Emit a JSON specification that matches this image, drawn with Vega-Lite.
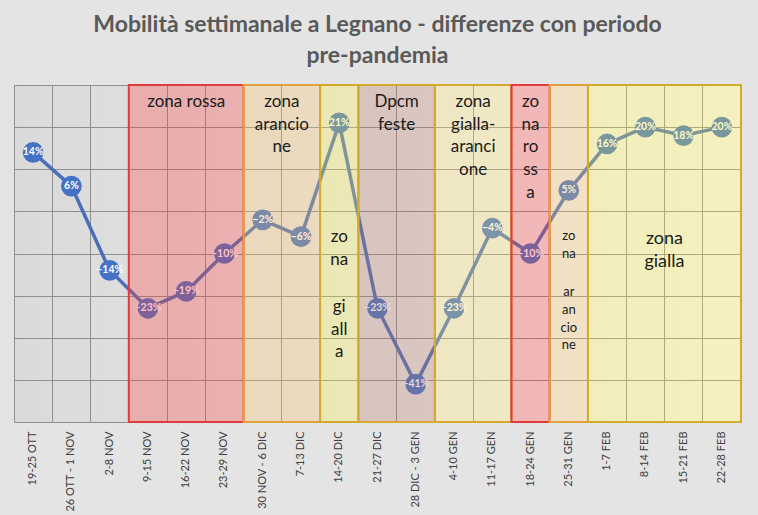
{
  "$schema": "https://vega.github.io/schema/vega-lite/v6.json",
  "width": 727,
  "height": 337,
  "autosize": {"type": "none"},
  "padding": {"left": 14, "top": 85, "right": 17, "bottom": 93},
  "background": "#e4e4e4",
  "title": {
    "text": ["Mobilità settimanale a Legnano - differenze con periodo", "pre-pandemia"],
    "font": "Lato",
    "fontSize": 23,
    "fontWeight": "bold",
    "color": "#595959",
    "anchor": "middle",
    "offset": 16,
    "lineHeight": 31
  },
  "config": {
    "view": {
      "stroke": null,
      "fill": {"gradient": "linear", "x1": 0, "y1": 0, "x2": 1, "y2": 0, "stops": [{"offset": 0, "color": "#dadada"}, {"offset": 1, "color": "#f3f3f3"}]}
    },
    "text": {"font": "Lato"}
  },
  "datasets": {
    "weeks": [
      {"settimana": "19-25 OTT", "valore": 0.14},
      {"settimana": "26 OTT - 1 NOV", "valore": 0.06},
      {"settimana": "2-8 NOV", "valore": -0.14},
      {"settimana": "9-15 NOV", "valore": -0.23},
      {"settimana": "16-22 NOV", "valore": -0.19},
      {"settimana": "23-29 NOV", "valore": -0.10},
      {"settimana": "30 NOV - 6 DIC", "valore": -0.02},
      {"settimana": "7-13 DIC", "valore": -0.06},
      {"settimana": "14-20 DIC", "valore": 0.21},
      {"settimana": "21-27 DIC", "valore": -0.23},
      {"settimana": "28 DIC - 3 GEN", "valore": -0.41},
      {"settimana": "4-10 GEN", "valore": -0.23},
      {"settimana": "11-17 GEN", "valore": -0.04},
      {"settimana": "18-24 GEN", "valore": -0.10},
      {"settimana": "25-31 GEN", "valore": 0.05},
      {"settimana": "1-7 FEB", "valore": 0.16},
      {"settimana": "8-14 FEB", "valore": 0.20},
      {"settimana": "15-21 FEB", "valore": 0.18},
      {"settimana": "22-28 FEB", "valore": 0.20}
    ],
    "zones": [
      {"tipo": "rossa", "inizio": "9-15 NOV", "fine": "23-29 NOV"},
      {"tipo": "arancione", "inizio": "30 NOV - 6 DIC", "fine": "7-13 DIC"},
      {"tipo": "gialla", "inizio": "14-20 DIC", "fine": "14-20 DIC"},
      {"tipo": "dpcm", "inizio": "21-27 DIC", "fine": "28 DIC - 3 GEN"},
      {"tipo": "gialla-arancione", "inizio": "4-10 GEN", "fine": "11-17 GEN"},
      {"tipo": "rossa", "inizio": "18-24 GEN", "fine": "18-24 GEN"},
      {"tipo": "arancione", "inizio": "25-31 GEN", "fine": "25-31 GEN"},
      {"tipo": "gialla", "inizio": "1-7 FEB", "fine": "22-28 FEB"}
    ]
  },
  "layer": [
    {
      "data": {"name": "weeks"},
      "mark": {"type": "line", "color": "#4a6fb8", "strokeWidth": 3.5},
      "encoding": {
        "x": {
          "field": "settimana",
          "type": "ordinal",
          "scale": {
            "type": "band",
            "paddingInner": 0,
            "paddingOuter": 0,
            "domain": ["19-25 OTT", "26 OTT - 1 NOV", "2-8 NOV", "9-15 NOV", "16-22 NOV", "23-29 NOV", "30 NOV - 6 DIC", "7-13 DIC", "14-20 DIC", "21-27 DIC", "28 DIC - 3 GEN", "4-10 GEN", "11-17 GEN", "18-24 GEN", "25-31 GEN", "1-7 FEB", "8-14 FEB", "15-21 FEB", "22-28 FEB"]
          },
          "axis": {
            "title": null,
            "bandPosition": 0,
            "grid": true,
            "gridColor": "#8f8f8f",
            "gridWidth": 1,
            "ticks": false,
            "domain": false,
            "labelAngle": -90,
            "labelFont": "Lato",
            "labelFontSize": 11,
            "labelColor": "#404040",
            "labelPadding": 9
          }
        },
        "y": {
          "field": "valore",
          "type": "quantitative",
          "scale": {"domain": [-0.5, 0.3], "nice": false, "zero": false},
          "axis": {
            "title": null,
            "values": [-0.5, -0.4, -0.3, -0.2, -0.1, 0, 0.1, 0.2, 0.3],
            "labels": false,
            "ticks": false,
            "domain": false,
            "grid": true,
            "gridColor": "#8f8f8f",
            "gridWidth": 1
          }
        }
      }
    },
    {
      "data": {"name": "weeks"},
      "mark": {"type": "point", "filled": true, "opacity": 1, "size": 430, "color": "#4472c4", "shape": "circle"},
      "encoding": {
        "x": {"field": "settimana", "type": "ordinal"},
        "y": {"field": "valore", "type": "quantitative"}
      }
    },
    {
      "data": {"name": "weeks"},
      "mark": {"type": "text", "color": "#ffffff", "fontWeight": "bold", "fontSize": 10.5, "baseline": "middle", "align": "center"},
      "encoding": {
        "x": {"field": "settimana", "type": "ordinal"},
        "y": {"field": "valore", "type": "quantitative"},
        "text": {"field": "valore", "type": "quantitative", "format": ".0%"}
      }
    },
    {
      "data": {"name": "zones"},
      "mark": {"type": "rect", "fillOpacity": 0.3, "strokeOpacity": 1, "strokeWidth": 2},
      "encoding": {
        "x": {"field": "inizio", "type": "ordinal", "bandPosition": 0},
        "x2": {"field": "fine", "bandPosition": 1},
        "fill": {
          "field": "tipo",
          "type": "nominal",
          "legend": null,
          "scale": {
            "domain": ["rossa", "arancione", "gialla", "dpcm", "gialla-arancione"],
            "range": ["#ff3c3c", "#ffc367", "#fbf046", "#b77867", "#ffe46e"]
          }
        },
        "stroke": {
          "field": "tipo",
          "type": "nominal",
          "legend": null,
          "scale": {
            "domain": ["rossa", "arancione", "gialla", "dpcm", "gialla-arancione"],
            "range": ["#e23a3a", "#e0a23a", "#d4aa2e", "#d4aa2e", "#d4aa2e"]
          }
        }
      }
    },
    {
      "data": {"values": [
        {"settimana": "16-22 NOV", "testo": "zona rossa"},
        {"settimana": "18-24 GEN", "testo": "zo\nna\nro\nss\na"}
      ]},
      "mark": {"type": "text", "lineBreak": "\n", "fontSize": 17, "lineHeight": 22.8, "baseline": "top", "align": "center", "color": "#1a1a1a"},
      "encoding": {
        "x": {"field": "settimana", "type": "ordinal", "bandPosition": 0.5},
        "y": {"datum": 0.279, "type": "quantitative"},
        "text": {"field": "testo"}
      }
    },
    {
      "data": {"values": [
        {"settimana": "7-13 DIC", "testo": "zona\narancio\nne"},
        {"settimana": "28 DIC - 3 GEN", "testo": "Dpcm\nfeste"},
        {"settimana": "11-17 GEN", "testo": "zona\ngialla-\naranci\none"}
      ]},
      "mark": {"type": "text", "lineBreak": "\n", "fontSize": 17, "lineHeight": 22.8, "baseline": "top", "align": "center", "color": "#1a1a1a"},
      "encoding": {
        "x": {"field": "settimana", "type": "ordinal", "bandPosition": 0},
        "y": {"datum": 0.279, "type": "quantitative"},
        "text": {"field": "testo"}
      }
    },
    {
      "data": {"values": [
        {"settimana": "14-20 DIC", "testo": "zo\nna"}
      ]},
      "mark": {"type": "text", "lineBreak": "\n", "fontSize": 17, "lineHeight": 22.5, "baseline": "top", "align": "center", "color": "#1a1a1a"},
      "encoding": {
        "x": {"field": "settimana", "type": "ordinal", "bandPosition": 0.5},
        "y": {"datum": -0.043, "type": "quantitative"},
        "text": {"field": "testo"}
      }
    },
    {
      "data": {"values": [
        {"settimana": "14-20 DIC", "testo": "gi\nall\na"}
      ]},
      "mark": {"type": "text", "lineBreak": "\n", "fontSize": 17, "lineHeight": 22.5, "baseline": "top", "align": "center", "color": "#1a1a1a"},
      "encoding": {
        "x": {"field": "settimana", "type": "ordinal", "bandPosition": 0.5},
        "y": {"datum": -0.209, "type": "quantitative"},
        "text": {"field": "testo"}
      }
    },
    {
      "data": {"values": [
        {"settimana": "15-21 FEB", "testo": "zona\ngialla"}
      ]},
      "mark": {"type": "text", "lineBreak": "\n", "fontSize": 18, "lineHeight": 22.5, "baseline": "top", "align": "center", "color": "#1a1a1a"},
      "encoding": {
        "x": {"field": "settimana", "type": "ordinal", "bandPosition": 0},
        "y": {"datum": -0.045, "type": "quantitative"},
        "text": {"field": "testo"}
      }
    },
    {
      "data": {"values": [
        {"settimana": "25-31 GEN", "testo": "zo\nna"}
      ]},
      "mark": {"type": "text", "lineBreak": "\n", "fontSize": 13, "lineHeight": 17.6, "baseline": "top", "align": "center", "color": "#1a1a1a"},
      "encoding": {
        "x": {"field": "settimana", "type": "ordinal", "bandPosition": 0.5},
        "y": {"datum": -0.045, "type": "quantitative"},
        "text": {"field": "testo"}
      }
    },
    {
      "data": {"values": [
        {"settimana": "25-31 GEN", "testo": "ar\nan\ncio\nne"}
      ]},
      "mark": {"type": "text", "lineBreak": "\n", "fontSize": 13, "lineHeight": 17.6, "baseline": "top", "align": "center", "color": "#1a1a1a"},
      "encoding": {
        "x": {"field": "settimana", "type": "ordinal", "bandPosition": 0.5},
        "y": {"datum": -0.178, "type": "quantitative"},
        "text": {"field": "testo"}
      }
    },
    {
      "mark": {"type": "rule", "color": "#f01515", "strokeWidth": 3},
      "encoding": {"y": {"datum": 0, "type": "quantitative"}}
    }
  ]
}
